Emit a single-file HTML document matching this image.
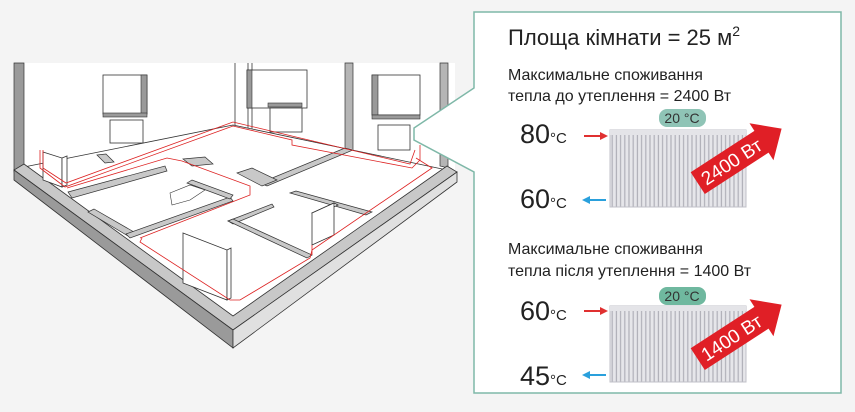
<!DOCTYPE html>
<html><head><meta charset="utf-8"><style>
body{margin:0;width:855px;height:407px;background:#f4f4f4;overflow:hidden;font-family:"Liberation Sans",sans-serif}
</style></head><body>
<svg width="855" height="407" viewBox="0 0 855 407" xmlns="http://www.w3.org/2000/svg" font-family="Liberation Sans, sans-serif">
<rect width="855" height="407" fill="#f4f4f4"/>
<polygon points="14,63 455,63 455,172 233,125 14,172" fill="#fff"/>
<polygon points="14,63 24,63 24,165 14,172" fill="#9a9a9a" stroke="#333" stroke-width="0.7"/>
<line x1="235" y1="63" x2="235" y2="126" stroke="#333" stroke-width="0.8"/>
<line x1="248" y1="63" x2="248" y2="180" stroke="#333" stroke-width="0.8"/>
<line x1="252" y1="63" x2="252" y2="180" stroke="#333" stroke-width="0.8"/>
<polygon points="345,63 353,63 353,150 345,152" fill="#b5b5b5" stroke="#333" stroke-width="0.7"/>
<polygon points="440,63 448,63 448,168 440,166" fill="#b5b5b5" stroke="#333" stroke-width="0.7"/>
<polygon points="24,165 233,125 447,168 233,318" fill="#fff"/>
<polyline points="24,167 233,125 447,170" fill="none" stroke="#333" stroke-width="0.8"/>
<polygon points="14,170 233,330 457,172 447,166 233,316 24,164" fill="#c8c8c8" stroke="#333" stroke-width="0.8"/>
<polygon points="14,170 233,330 233,348 14,180" fill="#9a9a9a" stroke="#333" stroke-width="0.8"/>
<polygon points="233,330 457,172 457,182 233,348" fill="#e0e0e0" stroke="#333" stroke-width="0.8"/>
<g fill="#c8c8c8" stroke="#333" stroke-width="0.7">
<polygon points="68,192 165,166 167,171 72,198"/>
<polygon points="88,212 94,209 134,232 128,236"/>
<polygon points="126,234 230,197 233,201 130,238"/>
<polygon points="187,183 192,180 233,195 230,199"/>
<polygon points="228,221 272,204 274,207 233,224"/>
<polygon points="228,221 233,219 312,255 307,258"/>
<polygon points="290,193 296,191 372,212 366,215"/>
<polygon points="345,148 353,150 267,186 260,183"/>
<polygon points="237,173 252,168 277,180 262,186"/>
<polygon points="183,159 205,157 213,164 192,166"/>
<polygon points="97,155 106,154 114,162 105,163"/>
</g>
<polygon points="170,193 190,185 205,190 190,200 172,205" fill="#fff" stroke="#333" stroke-width="0.6"/>
<g fill="#fff" stroke="#333" stroke-width="0.8">
<rect x="103" y="75" width="44" height="39"/>
<rect x="247" y="70" width="60" height="38"/>
<rect x="372" y="75" width="48" height="40"/>
</g>
<g fill="#9a9a9a" stroke="#333" stroke-width="0.6">
<rect x="141" y="75" width="6" height="39"/>
<rect x="372" y="75" width="6" height="40"/>
<rect x="247" y="70" width="5" height="38"/>
<rect x="103" y="113" width="44" height="4"/>
<rect x="268" y="103" width="34" height="4"/>
<rect x="372" y="115" width="48" height="4"/>
</g>
<g fill="#fff" stroke="#333" stroke-width="0.8">
<rect x="110" y="120" width="33" height="23"/>
<rect x="270" y="108" width="32" height="24"/>
<rect x="378" y="125" width="32" height="25"/>
<polygon points="43,152 62,158 62,187 43,180"/>
<polygon points="62,158 67,156 67,185 62,187"/>
<polygon points="183,233 227,250 227,300 183,283"/>
<polygon points="227,250 231,248 231,298 227,300"/>
<polygon points="312,213 334,203 338,205 316,215"/>
<polygon points="312,213 334,203 334,235 312,245"/>
</g>
<g fill="none" stroke="#d22" stroke-width="0.8">
<polyline points="40,150 40,168 65,187 233,126 292,140 292,145 412,168 420,160 420,145"/>
<polyline points="43,150 43,168 66,183 233,122 296,137 410,164 415,150"/>
<polyline points="416,158 432,168 312,250 310,258 240,300 230,300 140,242 142,238"/>
<polyline points="140,238 250,195 250,186 182,161 167,158 67,188"/>
<polyline points="312,245 312,255"/>
</g>
<polygon points="474,12 841,12 841,393 474,393 474,172 414,140 414,128 474,88" fill="#fff" stroke="#7fb8a8" stroke-width="1.5"/>
<text x="508" y="45" font-size="22" fill="#222">Площа кімнати = 25 м<tspan font-size="14" dy="-9">2</tspan></text>
<text x="508" y="80" font-size="16" fill="#222">Максимальне споживання</text>
<text x="508" y="101" font-size="16" fill="#222">тепла до утеплення = 2400 Вт</text>
<text x="508" y="254" font-size="16" fill="#222">Максимальне споживання</text>
<text x="508" y="276" font-size="16" fill="#222">тепла після утеплення = 1400 Вт</text>
<defs>
<pattern id="fins" width="4.2" height="10" patternUnits="userSpaceOnUse"><rect width="4.2" height="10" fill="#e6e6ea"/><rect x="2.6" width="1.2" height="10" fill="#b0b0b8"/></pattern>
</defs>
<rect x="610" y="130" width="136" height="77" fill="url(#fins)" stroke="#c0c0c8"/>
<rect x="610" y="130" width="136" height="5" fill="#e4e4e8"/>
<rect x="659" y="109" width="47" height="18" rx="8" fill="#8fc4b6"/>
<text x="682" y="123" font-size="14" fill="#333" text-anchor="middle">20 °C</text>
<text x="520" y="143" font-size="27" fill="#222">80<tspan font-size="15">°C</tspan></text>
<text x="520" y="208" font-size="27" fill="#222">60<tspan font-size="15">°C</tspan></text>
<line x1="584" y1="136" x2="602" y2="136" stroke="#e03030" stroke-width="2"/><polygon points="608,136 600,132 600,140" fill="#e03030"/>
<line x1="588" y1="200" x2="606" y2="200" stroke="#2aa0dc" stroke-width="2"/><polygon points="582,200 590,196 590,204" fill="#2aa0dc"/>
<g transform="translate(738,157) rotate(-33)">
<polygon points="-48,-13 28,-13 28,-22 52,0 28,22 28,13 -48,13" fill="#e01f26"/>
<text x="-8" y="7" font-size="19" fill="#fff" text-anchor="middle">2400 Вт</text>
</g>
<rect x="610" y="306" width="136" height="76" fill="url(#fins)" stroke="#c0c0c8"/>
<rect x="610" y="306" width="136" height="5" fill="#e4e4e8"/>
<rect x="659" y="287" width="47" height="18" rx="8" fill="#6fb89f"/>
<text x="682" y="301" font-size="14" fill="#333" text-anchor="middle">20 °C</text>
<text x="520" y="320" font-size="27" fill="#222">60<tspan font-size="15">°C</tspan></text>
<text x="520" y="385" font-size="27" fill="#222">45<tspan font-size="15">°C</tspan></text>
<line x1="584" y1="311" x2="602" y2="311" stroke="#e03030" stroke-width="2"/><polygon points="608,311 600,307 600,315" fill="#e03030"/>
<line x1="588" y1="375" x2="606" y2="375" stroke="#2aa0dc" stroke-width="2"/><polygon points="582,375 590,371 590,379" fill="#2aa0dc"/>
<g transform="translate(738,333) rotate(-33)">
<polygon points="-48,-13 28,-13 28,-22 52,0 28,22 28,13 -48,13" fill="#e01f26"/>
<text x="-8" y="7" font-size="19" fill="#fff" text-anchor="middle">1400 Вт</text>
</g>
</svg>
</body></html>
